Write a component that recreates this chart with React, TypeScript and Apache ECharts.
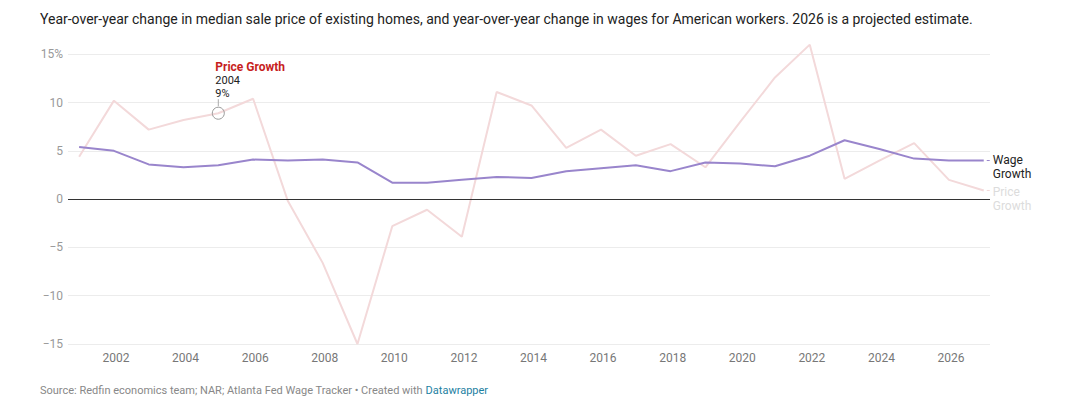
import React, { useEffect, useRef } from "react";
import * as echarts from "echarts";

const years = [2000, 2001, 2002, 2003, 2004, 2005, 2006, 2007, 2008, 2009, 2010, 2011, 2012, 2013, 2014, 2015, 2016, 2017, 2018, 2019, 2020, 2021, 2022, 2023, 2024, 2025, 2026];
const priceGrowth = [4.4, 10.2, 7.2, 8.2, 8.9, 10.4, -0.2, -6.6, -15.0, -2.8, -1.1, -3.9, 11.1, 9.7, 5.3, 7.2, 4.5, 5.7, 3.3, 8.0, 12.6, 16.0, 2.1, 4.0, 5.8, 2.0, 0.9];
const wageGrowth = [5.4, 5.0, 3.6, 3.3, 3.5, 4.1, 4.0, 4.1, 3.8, 1.7, 1.7, 2.0, 2.3, 2.2, 2.9, 3.2, 3.5, 2.9, 3.8, 3.7, 3.4, 4.5, 6.1, 5.2, 4.2, 4.0, 4.0];
const xTickLabels = [2002, 2004, 2006, 2008, 2010, 2012, 2014, 2016, 2018, 2020, 2022, 2024, 2026];
const yTicks = [-15, -10, -5, 0, 5, 10, 15];
const annotatedIndex = 4;

const subtitle =
  "Year-over-year change in median sale price of existing homes, and year-over-year change in wages for American workers. 2026 is a projected estimate.";
const sourceText = "Source: Redfin economics team; NAR; Atlanta Fed Wage Tracker • Created with ";
const creditText = "Datawrapper";

// each yearly value is plotted near the end of its year
const YEAR_END = 0.94;
const pos = (y: number) => y + YEAR_END;

const FONT = "Roboto, 'Noto Sans', sans-serif";
const PRICE_COLOR = "#f3d9da";
const WAGE_COLOR = "#9985cc";

export default function App() {
  const ref = useRef<HTMLDivElement>(null);

  useEffect(() => {
    document.body.style.margin = "0";
    if (!ref.current) return;
    const chart = echarts.init(ref.current, null, { renderer: "svg" });
    const priceData = years.map((y, i) => [pos(y), priceGrowth[i]]);
    const wageData = years.map((y, i) => [pos(y), wageGrowth[i]]);

    chart.setOption({
      animation: false,
      textStyle: { fontFamily: FONT },
      grid: { left: 68, right: 77, top: 54.3, bottom: 61, containLabel: false },
      xAxis: {
        type: "value",
        min: 2000.62,
        max: 2027.12,
        axisLine: { show: false },
        axisTick: { show: false },
        splitLine: { show: false },
        axisLabel: {
          customValues: xTickLabels,
          color: "#777",
          fontSize: 12,
          margin: 8,
          fontFamily: FONT,
          formatter: (v: number) => String(v),
        },
      },
      yAxis: {
        type: "value",
        min: -15,
        max: 15,
        interval: 5,
        axisLine: { show: false },
        axisTick: { show: false },
        splitLine: { show: true, lineStyle: { color: "#ececec", width: 1 } },
        axisLabel: {
          color: "#999",
          fontSize: 12,
          margin: 5,
          fontFamily: FONT,
          formatter: (v: number) => {
            const s = v < 0 ? "\u2212" + Math.abs(v) : String(v);
            return v === yTicks[yTicks.length - 1] ? s + "%" : s;
          },
        },
      },
      series: [
        {
          name: "Price Growth",
          type: "line",
          data: priceData,
          symbol: "none",
          clip: false,
          z: 2,
          lineStyle: { color: PRICE_COLOR, width: 2 },
          endLabel: {
            show: true,
            formatter: "Price\nGrowth",
            color: "#dcdcdc",
            fontSize: 12,
            lineHeight: 14,
            fontFamily: FONT,
            distance: 9,
            verticalAlign: "top",
            offset: [0, -5],
          },
          markLine: {
            silent: true,
            symbol: "none",
            label: { show: false },
            lineStyle: { color: "#333", width: 1, type: "solid" },
            data: [{ yAxis: 0 }],
          },
        },
        {
          name: "Wage Growth",
          type: "line",
          data: wageData,
          symbol: "none",
          clip: false,
          z: 3,
          lineStyle: { color: WAGE_COLOR, width: 2 },
          endLabel: {
            show: true,
            formatter: "Wage\nGrowth",
            color: "#222",
            fontSize: 12,
            lineHeight: 14,
            fontFamily: FONT,
            distance: 9,
            verticalAlign: "top",
            offset: [0, -8],
          },
        },
      ],
    });

    const [ax, ay] = chart.convertToPixel({ xAxisIndex: 0, yAxisIndex: 0 }, priceData[annotatedIndex]);
    const last = years.length - 1;
    const [wx, wy] = chart.convertToPixel({ xAxisIndex: 0, yAxisIndex: 0 }, wageData[last]);
    const [px, py] = chart.convertToPixel({ xAxisIndex: 0, yAxisIndex: 0 }, priceData[last]);

    chart.setOption({
      graphic: [
        {
          type: "text",
          left: 40,
          top: 12,
          style: { text: subtitle, fontSize: 14, fill: "#222", fontFamily: FONT },
        },
        {
          type: "text",
          left: 40,
          top: 385,
          style: {
            text: "{a|" + sourceText + "}{b|" + creditText + "}",
            fontFamily: FONT,
            rich: {
              a: { fontSize: 11, fill: "#888", fontFamily: FONT },
              b: { fontSize: 11, fill: "#1d81a2", fontFamily: FONT },
            },
          },
        },
        {
          type: "text",
          x: ax - 3,
          y: ay - 46,
          style: {
            text: "Price Growth",
            fontSize: 12,
            fontWeight: "bold",
            fill: "#c71e1d",
            fontFamily: FONT,
            verticalAlign: "middle",
          },
        },
        {
          type: "text",
          x: ax - 3,
          y: ay - 33,
          style: { text: String(years[annotatedIndex]), fontSize: 11, fill: "#222", fontFamily: FONT, verticalAlign: "middle" },
        },
        {
          type: "text",
          x: ax - 3,
          y: ay - 20,
          style: {
            text: Math.round(priceGrowth[annotatedIndex]) + "%",
            fontSize: 11,
            fill: "#222",
            fontFamily: FONT,
            verticalAlign: "middle",
          },
        },
        {
          type: "line",
          shape: { x1: ax, y1: ay - 14, x2: ax, y2: ay - 7 },
          style: { stroke: "#aaa", lineWidth: 1 },
        },
        {
          type: "circle",
          shape: { cx: ax, cy: ay, r: 6 },
          style: { fill: "rgba(255,255,255,0)", stroke: "#999", lineWidth: 1 },
          z: 10,
        },
        {
          type: "line",
          shape: { x1: wx + 3, y1: wy, x2: wx + 6, y2: wy },
          style: { stroke: WAGE_COLOR, lineWidth: 1 },
        },
        {
          type: "line",
          shape: { x1: px + 3, y1: py, x2: px + 6, y2: py },
          style: { stroke: PRICE_COLOR, lineWidth: 1 },
        },
      ],
    });

    return () => chart.dispose();
  }, []);

  return <div ref={ref} style={{ width: 1067, height: 405 }} />;
}
